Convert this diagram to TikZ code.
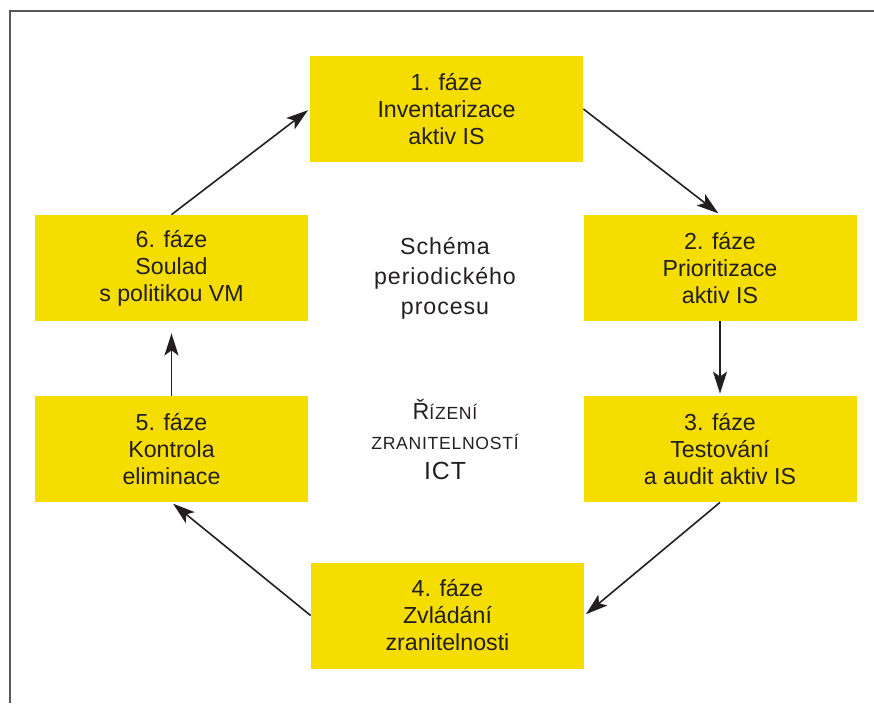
\documentclass[tikz,border=0pt]{standalone}
\usepackage{fontspec}
\setmainfont{Liberation Sans}
\usetikzlibrary{arrows.meta}
\definecolor{phaseyellow}{RGB}{245,221,0}
\definecolor{inkgray}{RGB}{35,31,32}

\begin{document}
\begin{tikzpicture}[x=0.5pt,y=-0.5pt]
		\tikzstyle{phase} = [rectangle,fill=phaseyellow,minimum width=136.5pt,minimum height=53pt,inner sep=0pt,align=center,text=inkgray,font=\fontsize{11.6}{13.5}\selectfont]
		\tikzstyle{title} = [align=center,text=inkgray,font=\fontsize{11.6}{15}\selectfont\addfontfeature{LetterSpace=4}]
		\tikzstyle{flow}  = [-{Stealth[length=11pt,width=7pt,inset=2.5pt]},draw=inkgray,line width=0.8pt,shorten >=1pt]
		
		\useasboundingbox (0,0) rectangle (874,703);
		\draw[gray!70!black,line width=1pt] (10,703) -- (10,11) -- (874,11);
		
		\node[phase] (f1) at (446.5,109) {1. fáze\\Inventarizace\\aktiv IS};
		\node[phase] (f2) at (720,268) {2. fáze\\Prioritizace\\aktiv IS};
		\node[phase] (f3) at (720,449) {3. fáze\\Testování\\a audit aktiv IS};
		\node[phase] (f4) at (447.5,615.5) {4. fáze\\Zvládání\\zranitelnosti};
		\node[phase] (f5) at (171.5,449) {5. fáze\\Kontrola\\eliminace};
		\node[phase] (f6) at (171.5,268) {6. fáze\\Soulad\\s politikou VM};
		
		\node[title] (schema) at (445,278) {Schéma\\periodického\\procesu};
		\node[title] (rizeni) at (445,439) {Ř{\fontsize{8.8}{15}\selectfont ÍZENÍ}\\{\fontsize{8.8}{15}\selectfont ZRANITELNOSTÍ}\\{\fontsize{12.4}{15}\selectfont ICT}};
		
		\path (f1.east) edge[flow] (f2.north);
		\path (f2.south) edge[flow] (f3.north);
		\path (f3.south) edge[flow] (f4.east);
		\path (f4.west) edge[flow] (f5.south);
		\path (f5.north) edge[flow,shorten >=6pt] (f6.south);
		\path (f6.north) edge[flow] (f1.west);
	\end{tikzpicture}
\end{document}
